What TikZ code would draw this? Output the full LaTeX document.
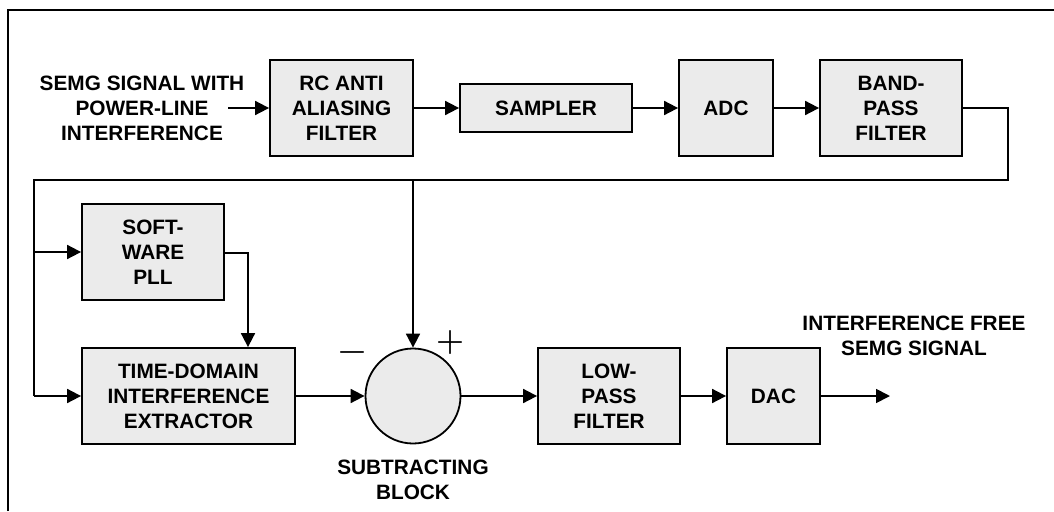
\documentclass[tikz,border=0pt]{standalone}
\usepackage{fontspec}
\setmainfont{Liberation Sans}
\newfontfamily\signfont{Latin Modern Roman}
\usetikzlibrary{arrows.meta}
\begin{document}
\begin{tikzpicture}[x=1pt,y=-1pt,
  blk/.style={draw=black,line width=1.8pt,fill=black!8,align=center,inner sep=0pt,
    font=\fontsize{20.8}{25}\selectfont\bfseries},
  lbl/.style={align=center,inner sep=0pt,font=\fontsize{20.8}{25}\selectfont\bfseries},
  sgn/.style={inner sep=0pt,font=\signfont\fontsize{32}{32}\selectfont\bfseries},
  wire/.style={line width=1.8pt},
  arr/.style={line width=1.8pt,-{Triangle[length=14pt,width=14pt]}}]
\useasboundingbox (0,0) rectangle (1054,511);
\draw[line width=1.8pt] (8,511) -- (8,10) -- (1054,10);
% top row
\node[blk,minimum width=143pt,minimum height=96pt] (rc) at (341.5,108) {RC ANTI\\ALIASING\\FILTER};
\node[blk,minimum width=172pt,minimum height=48pt] (smp) at (546,108) {SAMPLER};
\node[blk,minimum width=94pt,minimum height=96pt] (adc) at (726,108) {ADC};
\node[blk,minimum width=142pt,minimum height=96pt] (bpf) at (891,108) {BAND-\\PASS\\FILTER};
\node[lbl] (intxt) at (142,108) {SEMG SIGNAL WITH\\POWER-LINE\hspace*{36pt}\\INTERFERENCE};
\coordinate (ins) at (228,108);
% lower part
\node[blk,minimum width=142pt,minimum height=96pt] (pll) at (153,252) {SOFT-\\WARE\\PLL};
\node[blk,minimum width=213pt,minimum height=96pt] (tdie) at (188.5,396) {TIME-DOMAIN\\INTERFERENCE\\EXTRACTOR};
\node[draw=black,line width=1.8pt,fill=black!8,circle,minimum size=95pt,inner sep=0pt] (sub) at (413,396) {};
\node[blk,minimum width=142pt,minimum height=96pt] (lpf) at (609,396) {LOW-\\PASS\\FILTER};
\node[blk,minimum width=93pt,minimum height=96pt] (dac) at (773.5,396) {DAC};
\node[lbl] (subtxt) at (413,480) {SUBTRACTING\\BLOCK};
\node[lbl] (outtxt) at (914,336) {INTERFERENCE FREE\\SEMG SIGNAL};
\node[sgn] (minus) at (352,356) {−};
\node[sgn] (plus) at (450,343) {+};
\coordinate (out) at (890,396);
\coordinate (r1) at (1008,108);
\coordinate (r2) at (1008,180);
\coordinate (l1) at (34,180);
\coordinate (l2) at (34,396);
\coordinate (b1) at (34,252);
\coordinate (m1) at (413,180);
% connectors
\draw[arr] (ins) -- (rc.west);
\draw[arr] (rc.east) -- (smp.west);
\draw[arr] (smp.east) -- (adc.west);
\draw[arr] (adc.east) -- (bpf.west);
\draw[wire] (bpf.east) -- (r1) -- (r2) -- (l1) -- (l2);
\draw[arr] (l2) -- (tdie.west);
\draw[arr] (b1) -- (pll.west);
\draw[arr] (m1) -- (sub.north);
\draw[arr] ([yshift=-1pt]pll.east) -| ([xshift=59.5pt]tdie.north);
\draw[arr] (tdie.east) -- (sub.west);
\draw[arr] (sub.east) -- (lpf.west);
\draw[arr] (lpf.east) -- (dac.west);
\draw[arr] (dac.east) -- (out);
\end{tikzpicture}
\end{document}
